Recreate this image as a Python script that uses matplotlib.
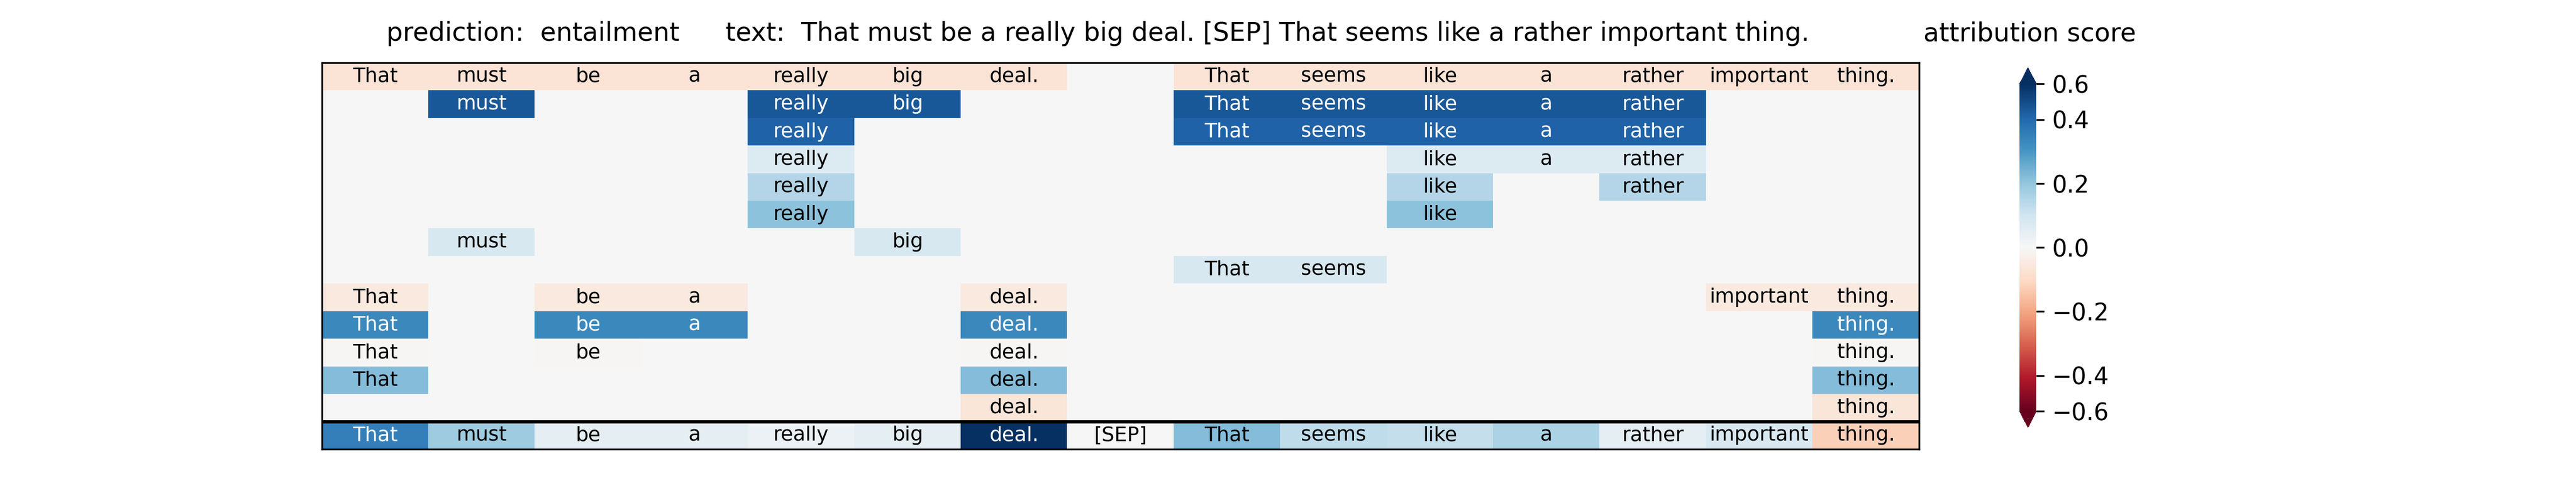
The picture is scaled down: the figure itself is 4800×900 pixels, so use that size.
import matplotlib
matplotlib.use("Agg")
import matplotlib.pyplot as plt
import matplotlib.colors as mcolors
import numpy as np

tokens = ["That", "must", "be", "a", "really", "big", "deal.", "[SEP]",
          "That", "seems", "like", "a", "rather", "important", "thing."]

# attribution rows (13 feature rows), 0 means no attribution -> no text
rows = [
    [-0.07, -0.07, -0.07, -0.07, -0.07, -0.07, -0.07, 0, -0.07, -0.07, -0.07, -0.07, -0.07, -0.07, -0.07],
    [0, 0.45, 0, 0, 0.45, 0.45, 0, 0, 0.45, 0.45, 0.45, 0.45, 0.45, 0, 0],
    [0, 0, 0, 0, 0.42, 0, 0, 0, 0.42, 0.42, 0.42, 0.42, 0.42, 0, 0],
    [0, 0, 0, 0, 0.07, 0, 0, 0, 0, 0, 0.07, 0.07, 0.07, 0, 0],
    [0, 0, 0, 0, 0.15, 0, 0, 0, 0, 0, 0.15, 0, 0.15, 0, 0],
    [0, 0, 0, 0, 0.21, 0, 0, 0, 0, 0, 0.21, 0, 0, 0, 0],
    [0, 0.08, 0, 0, 0, 0.08, 0, 0, 0, 0, 0, 0, 0, 0, 0],
    [0, 0, 0, 0, 0, 0, 0, 0, 0.08, 0.08, 0, 0, 0, 0, 0],
    [-0.05, 0, -0.05, -0.05, 0, 0, -0.05, 0, 0, 0, 0, 0, 0, -0.05, -0.05],
    [0.33, 0, 0.33, 0.33, 0, 0, 0.33, 0, 0, 0, 0, 0, 0, 0, 0.33],
    [-0.004, 0, -0.004, 0, 0, 0, -0.004, 0, 0, 0, 0, 0, 0, 0, -0.004],
    [0.22, 0, 0, 0, 0, 0, 0.22, 0, 0, 0, 0, 0, 0, 0, 0.22],
    [0, 0, 0, 0, 0, 0, -0.06, 0, 0, 0, 0, 0, 0, 0, -0.06],
]
total = [0.35, 0.18, 0.05, 0.05, 0.03, 0.05, 0.62, 0.0, 0.22, 0.13, 0.12, 0.16, 0.05, 0.08, -0.12]

prediction = "entailment"
text = "That must be a really big deal. [SEP] That seems like a rather important thing."

data = np.array(rows + [total])
norm = mcolors.SymLogNorm(linthresh=0.4, linscale=0.57, vmin=-0.6, vmax=0.6, base=10)
cmap = plt.get_cmap("RdBu")

fig = plt.figure(figsize=(16, 3), dpi=300)
ax = fig.add_axes([0.125, 0.07, 0.62, 0.80])
im = ax.imshow(data, cmap=cmap, norm=norm, aspect="auto")
n_rows = data.shape[0]
for i in range(n_rows):
    for j, tok in enumerate(tokens):
        v = data[i, j]
        if i < n_rows - 1 and v == 0:
            continue
        color = "white" if abs(v) > 0.3 else "black"
        ax.text(j, i, tok, ha="center", va="center", fontsize=9, color=color)
ax.axhline(n_rows - 1.5, color="black", linewidth=1.5)
ax.set_xticks([])
ax.set_yticks([])

fig.text(0.207, 0.915, f"prediction:  {prediction}", ha="center", fontsize=11.5)
fig.text(0.492, 0.915, f"text:  {text}", ha="center", fontsize=11.5)

cax = fig.add_axes([0.784, 0.115, 0.0065, 0.745])
cb = fig.colorbar(im, cax=cax, extend="both", ticks=[-0.6, -0.4, -0.2, 0, 0.2, 0.4, 0.6])
cb.ax.minorticks_off()
cb.ax.yaxis.set_minor_locator(matplotlib.ticker.NullLocator())
cb.ax.tick_params(labelsize=10.5)
cb.outline.set_visible(False)
cb.ax.set_yticklabels(["\u22120.6", "\u22120.4", "\u22120.2", "0.0", "0.2", "0.4", "0.6"])
fig.text(0.788, 0.915, "attribution score", ha="center", fontsize=11.5)

fig.savefig("out.png", dpi=300)
